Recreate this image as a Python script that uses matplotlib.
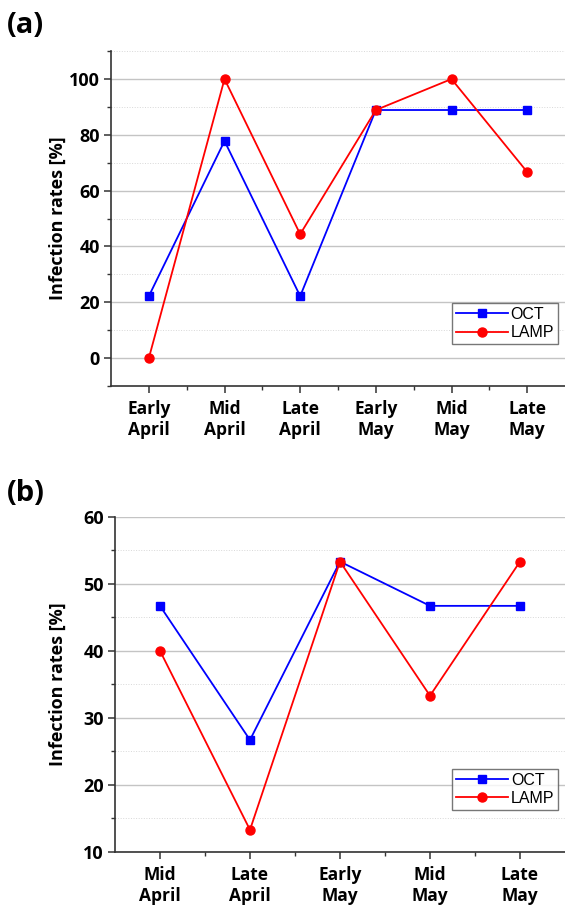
import numpy as np
import matplotlib.pyplot as plt
from matplotlib.ticker import MultipleLocator

# panel (a)
periods_a = ["Early\nApril", "Mid\nApril", "Late\nApril", "Early\nMay", "Mid\nMay", "Late\nMay"]
oct_a = [22.2, 77.8, 22.2, 88.9, 88.9, 88.9]
lamp_a = [0.0, 100.0, 44.4, 88.9, 100.0, 66.7]

# panel (b)
periods_b = ["Mid\nApril", "Late\nApril", "Early\nMay", "Mid\nMay", "Late\nMay"]
oct_b = [46.7, 26.7, 53.3, 46.7, 46.7]
lamp_b = [40.0, 13.3, 53.3, 33.3, 53.3]

tick_font = "Open Sans"

fig = plt.figure(figsize=(5.65, 9.05), dpi=100)
ax_a = fig.add_axes([0.1965, 0.5735, 0.8035, 0.370])
ax_b = fig.add_axes([0.2035, 0.0586, 0.7965, 0.3705])


def draw(ax, labels, oct_vals, lamp_vals, ylim, major, minor):
    x = np.arange(len(labels))
    ax.plot(x, oct_vals, color="#0000ff", lw=1.3, marker="s", ms=6, label="OCT", zorder=3)
    ax.plot(x, lamp_vals, color="#ff0000", lw=1.3, marker="o", ms=6.5, label="LAMP", zorder=3)
    ax.set_xlim(-0.5, len(labels) - 0.5)
    ax.set_ylim(*ylim)
    ax.set_xticks(x)
    ax.set_xticklabels(labels, fontsize=12.5, fontweight="bold", family=tick_font, linespacing=1.25)
    ax.set_xticks(x[:-1] + 0.5, minor=True)
    ax.yaxis.set_major_locator(MultipleLocator(major))
    ax.yaxis.set_minor_locator(MultipleLocator(minor))
    for t in ax.get_yticklabels():
        t.set_fontsize(13)
        t.set_fontweight("bold")
        t.set_family(tick_font)
    ax.grid(which="major", axis="y", color="#c4c4c4", lw=1.0, ls="-")
    ax.grid(which="minor", axis="y", color="#d8d8d8", lw=0.7, ls=":")
    ax.set_axisbelow(True)
    for s in ("top", "right"):
        ax.spines[s].set_visible(False)
    for s in ("left", "bottom"):
        ax.spines[s].set_color("#333333")
        ax.spines[s].set_linewidth(1.2)
    ax.tick_params(which="major", direction="out", length=5, width=1.1, color="#333333", pad=3)
    ax.tick_params(which="minor", direction="out", length=3, width=1.0, color="#333333")
    ax.tick_params(axis="x", which="major", pad=5)
    ax.set_ylabel("Infection rates [%]", fontsize=13, fontweight="bold", family=tick_font)
    leg = ax.legend(loc="lower right", bbox_to_anchor=(0.985, 0.125),
                    prop={"family": "Liberation Sans", "size": 11.5},
                    frameon=True, fancybox=False, edgecolor="#555555", handlelength=3.2,
                    borderpad=0.25, labelspacing=0.2, handletextpad=0.2, borderaxespad=0)
    leg.get_frame().set_linewidth(1.0)


draw(ax_a, periods_a, oct_a, lamp_a, (-10, 110), 20, 10)
draw(ax_b, periods_b, oct_b, lamp_b, (10, 60), 10, 5)
ax_a.yaxis.set_label_coords(-0.097, 0.5)
ax_b.yaxis.set_label_coords(-0.107, 0.5)

fig.text(0.012, 0.972, "(a)", fontsize=21, fontweight="bold", family=tick_font, va="center")
fig.text(0.012, 0.455, "(b)", fontsize=21, fontweight="bold", family=tick_font, va="center")

fig.savefig("out.png", dpi=100)
